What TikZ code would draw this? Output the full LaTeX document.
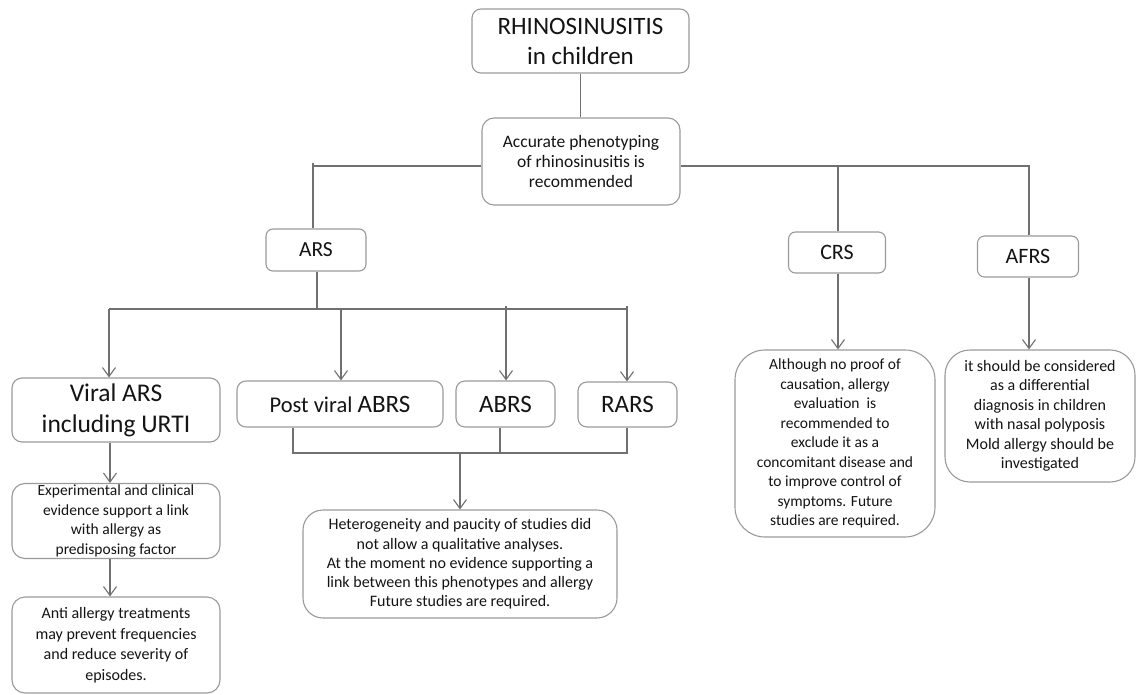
\documentclass[tikz,border=0pt]{standalone}
\usepackage{fontspec}
\setmainfont{Carlito}
\usetikzlibrary{arrows.meta,calc}
\definecolor{boxgray}{HTML}{9A9A9A}
\definecolor{linegray}{HTML}{707070}
\definecolor{txt}{HTML}{141414}
\newcommand{\myfs}[2]{\fontsize{#1}{#2}\selectfont}
\begin{document}
\begin{tikzpicture}[x=1pt,y=-1pt,
  box/.style={draw=boxgray, line width=1.1pt, rounded corners=#1, align=center, inner sep=0pt, text=txt},
  box/.default=8pt,
  ln/.style={draw=linegray, line width=1.1pt},
  arr/.style={ln, -{Straight Barb[length=9pt,width=13pt,line width=1.1pt]}}]
\fill[white] (0,0) rectangle (1137,695);
\useasboundingbox (0,0) rectangle (1137,695);

% nodes
\node[box=9pt, minimum width=217pt, minimum height=64pt, font=\myfs{25}{30}] (top) at (580.5,41) {RHINOSINUSITIS\\in children};
\node[box=12pt, minimum width=198pt, minimum height=87pt, font=\myfs{17.5}{20}] (acc) at (581,161.5) {Accurate phenotyping\\of rhinosinusitis is\\recommended};
\node[box=7pt, minimum width=100pt, minimum height=42pt, font=\myfs{21.5}{25}] (ars) at (316,250) {ARS};
\node[box=7pt, minimum width=97pt, minimum height=41pt, font=\myfs{22}{26}] (crs) at (837,252.5) {CRS};
\node[box=7pt, minimum width=101pt, minimum height=41pt, font=\myfs{22}{26}] (afrs) at (1028,256.5) {AFRS};
\node[box=10pt, minimum width=208pt, minimum height=64pt, font=\myfs{25.5}{31}] (viral) at (116,410) {Viral ARS\\including URTI};
\node[box=9pt, minimum width=206pt, minimum height=46pt] (post) at (340,404) {\myfs{22.5}{26}Post viral \myfs{25}{28}ABRS};
\node[box=9pt, minimum width=99pt, minimum height=46pt, font=\myfs{25}{28}] (abrs) at (505.5,404) {ABRS};
\node[box=9pt, minimum width=99pt, minimum height=45pt, font=\myfs{25}{28}] (rars) at (627.5,404.5) {RARS};
\node[box=13pt, minimum width=208pt, minimum height=75pt, font=\myfs{15.5}{19.5}] (exp) at (116,521) {Experimental and clinical\\evidence support a link\\with allergy as\\predisposing factor};
\node[box=13pt, minimum width=208pt, minimum height=96pt, font=\myfs{16}{20.5}] (anti) at (116,645) {Anti allergy treatments\\may prevent frequencies\\and reduce severity of\\episodes.};
\node[box=20pt, minimum width=314pt, minimum height=108pt, font=\myfs{16}{19.2}] (het) at (460,564) {Heterogeneity and paucity of studies did\\not allow a qualitative analyses.\\At the moment no evidence supporting a\\link between this phenotypes and allergy\\Future studies are required.};
\node[box=30pt, minimum width=200pt, minimum height=187pt, font=\myfs{15.5}{19.5}] (crstext) at (835,443.5) {Although no proof of\\causation, allergy\\evaluation\ \ is\\recommended to\\exclude it as a\\concomitant disease and\\to improve control of\\symptoms. Future\\studies are required.};
\node[box=25pt, minimum width=190pt, minimum height=132pt, font=\myfs{16}{19.5}] (afrstext) at (1040,416) {it should be considered\\as a differential\\diagnosis in children\\with nasal polyposis\\Mold allergy should be\\investigated};

% coordinates
\coordinate (hl) at (313,166);
\coordinate (hc) at (838,166);
\coordinate (hr) at (1029,166);
\coordinate (ab) at (317,309);
\coordinate (b1) at (109,309);
\coordinate (b2) at (341,309);
\coordinate (b3) at (506,309);
\coordinate (b4) at (627,309);
\coordinate (k1) at (293,453);
\coordinate (k2) at (500,453);
\coordinate (k3) at (627,453);
\coordinate (k0) at (460,453);
\coordinate (lc) at (110,460);

% connectors
\draw[ln] (top.south) -- (top.south |- acc.north);
\draw[ln] (hl -| acc.west) -- (hl);
\draw[ln] ($(hl)+(0,-3)$) -- (hl |- ars.north);
\draw[ln] (hr -| acc.east) -- (hr) -- (hr |- afrs.north);
\draw[ln] (hc) -- (hc |- crs.north);
\draw[ln] (ab |- ars.south) -- (ab);
\draw[ln] (b1) -- (b4);
\draw[arr] (b1) -- (b1 |- viral.north);
\draw[arr] (b2) -- (b2 |- post.north);
\draw[arr] ($(b3)+(0,-3)$) -- (b3 |- abrs.north);
\draw[arr] ($(b4)+(0,-3)$) -- (b4 |- rars.north);
\draw[ln] (k1 |- post.south) -- (k1) -- (k3) -- (k3 |- rars.south);
\draw[ln] (k2 |- abrs.south) -- (k2);
\draw[arr] (k0) -- (k0 |- het.north);
\draw[arr] (lc |- viral.south) -- (lc |- exp.north);
\draw[arr] (lc |- exp.south) -- (lc |- anti.north);
\draw[arr] (hc |- crs.south) -- (hc |- crstext.north);
\draw[arr] (hr |- afrs.south) -- (hr |- afrstext.north);
\end{tikzpicture}
\end{document}
